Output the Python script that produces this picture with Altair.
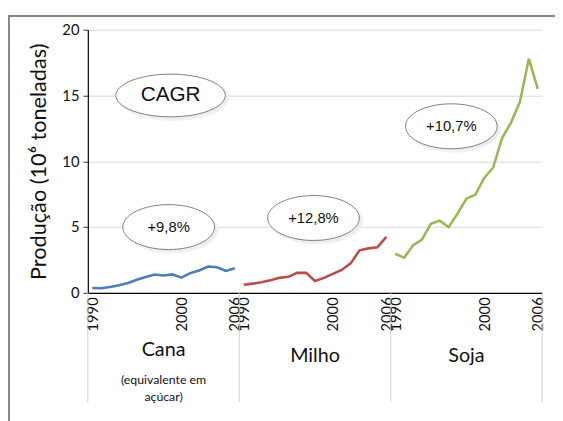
import altair as alt
import pandas as pd

years = list(range(1990, 2007))
groups = ["Cana", "Milho", "Soja"]
cana = [0.37, 0.35, 0.45, 0.57, 0.75, 1.0, 1.2, 1.4, 1.32, 1.4, 1.15, 1.5, 1.7, 2.0, 1.95, 1.67, 1.87]
milho = [0.62, 0.70, 0.80, 0.95, 1.14, 1.22, 1.52, 1.52, 0.90, 1.14, 1.44, 1.74, 2.24, 3.23, 3.38, 3.46, 4.25]
soja = [2.97, 2.67, 3.6, 4.04, 5.24, 5.49, 4.99, 6.03, 7.16, 7.46, 8.73, 9.53, 11.77, 12.94, 14.51, 17.8, 15.5]
colors = ["#4a7ebb", "#be4b48", "#98b954"]

ann_labels = ["+9,8%", "+12,8%", "+10,7%"]
ann_x = [8.57, 24.83, 40.3]
ann_y = [5.0, 5.69, 12.66]
cagr_label = ["CAGR"]
cagr_x = [8.79]
cagr_y = [15.0]

rows = []
for gi, (g, vals) in enumerate(zip(groups, [cana, milho, soja])):
    for yi, (yr, v) in enumerate(zip(years, vals)):
        rows.append({"g": g, "idx": gi * 17 + yi, "year": yr, "v": v})
df = pd.DataFrame(rows)

W, H = 461, 267
n = len(years) * len(groups)
xs = alt.Scale(domain=[-0.5, n - 0.5], nice=False, zero=False)
ys = alt.Scale(domain=[0, 20], nice=False)

tick_vals = []
for gi in range(3):
    tick_vals += [gi * 17 + 0, gi * 17 + 10, gi * 17 + 16]

base_x = alt.X("idx:Q", scale=xs, axis=alt.Axis(
    values=tick_vals, labelExpr="'' + (1990 + datum.value % 17)", labelAngle=-90,
    labelOverlap=False, labelFlush=False, ticks=False, grid=False, title=None,
    labelFontSize=15, labelFont="Lato", labelColor="#111", labelPadding=4,
    domainColor="#000", domainWidth=1.2))
base_y = alt.Y("v:Q", scale=ys, axis=alt.Axis(
    values=[0, 5, 10, 15, 20], grid=True, gridColor="#d9d9d9", domainColor="#000",
    domainWidth=1.2, tickColor="#333", tickSize=5, labelFontSize=15, labelFont="Lato",
    labelColor="#111", labelPadding=4, title="Produção (10⁶ toneladas)",
    titleFont="Lato", titleFontSize=22, titleFontWeight="normal", titleColor="#111",
    titlePadding=12))

lines = alt.Chart(df).mark_line(strokeWidth=2.6).encode(
    x=base_x, y=base_y,
    color=alt.Color("g:N", scale=alt.Scale(domain=groups, range=colors), legend=None),
)

sep_df = pd.DataFrame({"idx": [-0.5, 16.5, 33.5, 50.5]})
seps = alt.Chart(sep_df).mark_rule(color="#d0d0d0", strokeWidth=1).encode(
    x=alt.X("idx:Q", scale=xs), y=alt.value(H), y2=alt.value(H + 111))

lab_df = pd.DataFrame({"idx": [8, 25, 42], "t": groups})
glabels = alt.layer(
    alt.Chart(lab_df.iloc[[0]]).mark_text(font="Lato", fontSize=20, color="#111", baseline="middle").encode(
        x=alt.X("idx:Q", scale=xs), y=alt.value(H + 58), text="t:N"),
    alt.Chart(lab_df.iloc[[1, 2]]).mark_text(font="Lato", fontSize=20, color="#111", baseline="middle").encode(
        x=alt.X("idx:Q", scale=xs), y=alt.value(H + 64), text="t:N"),
    alt.Chart(pd.DataFrame({"idx": [8], "t": ["(equivalente em"]})).mark_text(font="Lato", fontSize=12.5, color="#111", baseline="middle").encode(
        x=alt.X("idx:Q", scale=xs), y=alt.value(H + 88), text="t:N"),
    alt.Chart(pd.DataFrame({"idx": [8], "t": ["açúcar)"]})).mark_text(font="Lato", fontSize=12.5, color="#111", baseline="middle").encode(
        x=alt.X("idx:Q", scale=xs), y=alt.value(H + 106), text="t:N"),
)

def ellipse(ry):
    return f"M -1 0 A 1 {ry} 0 1 1 1 0 A 1 {ry} 0 1 1 -1 0 Z"

ann_df = pd.DataFrame({"idx": ann_x, "v": ann_y, "t": ann_labels})
cagr_df = pd.DataFrame({"idx": cagr_x, "v": cagr_y, "t": cagr_label})

def bubble(d, w, ry, fs):
    enc = dict(x=alt.X("idx:Q", scale=xs), y=alt.Y("v:Q", scale=ys))
    shadow = alt.Chart(d).mark_point(shape=ellipse(ry), size=w * w, filled=True, fill="#ececec",
                                     stroke="#f2f2f2", strokeWidth=2, opacity=1, xOffset=3, yOffset=3).encode(**enc)
    shape = alt.Chart(d).mark_point(shape=ellipse(ry), size=w * w, filled=True, fill="#ffffff",
                                    stroke="#7f7f7f", strokeWidth=1, opacity=1).encode(**enc)
    txt = alt.Chart(d).mark_text(font="Liberation Sans", fontSize=fs, color="#111", baseline="middle").encode(
        text="t:N", **enc)
    return [shadow, shape, txt]

border = alt.Chart(pd.DataFrame({"a": [0]})).mark_rect(
    fillOpacity=0, stroke="#888888", strokeWidth=2).encode(
    x=alt.value(-80), x2=alt.value(700), y=alt.value(-14), y2=alt.value(600))

chart = alt.layer(
    border, seps, lines, *bubble(cagr_df, 111, 0.39, 21), *bubble(ann_df, 93, 0.49, 15), glabels
).properties(
    width=W, height=H,
    autosize=alt.AutoSizeParams(type="none"),
    padding={"left": 81, "top": 19, "right": 13, "bottom": 127},
).configure_view(stroke=None)

chart.save("out.html", embed_options={"renderer": "svg", "actions": False})
